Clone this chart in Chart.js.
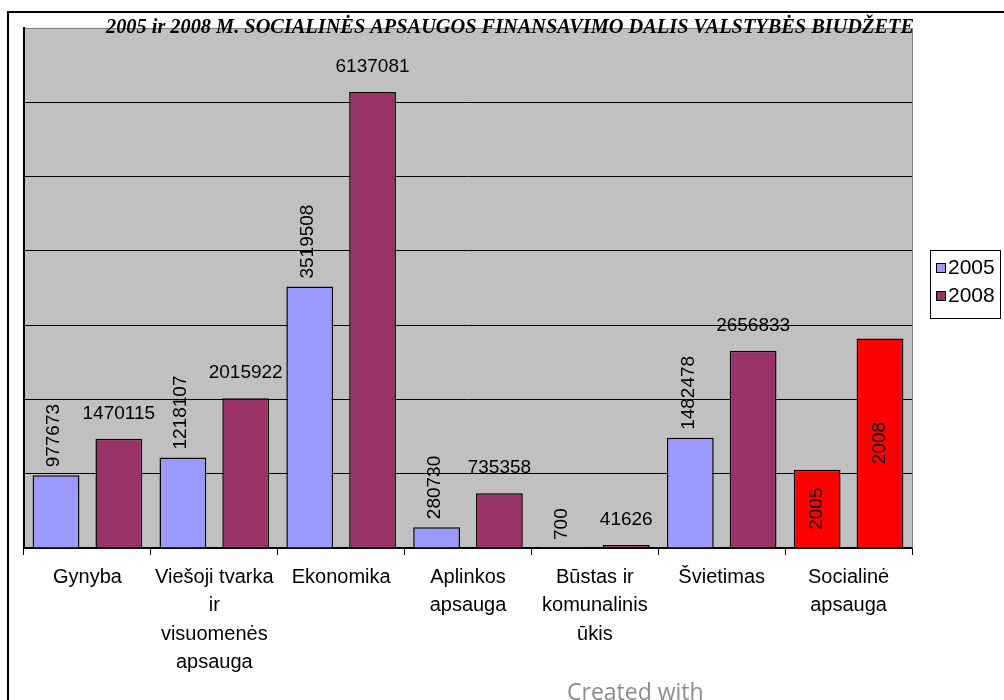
<!DOCTYPE html>
<html>
<head>
<meta charset="utf-8">
<script src="https://cdn.jsdelivr.net/npm/chart.js@4"></script>
<style>
  body { margin: 0; background: #fff; }
  canvas { display: block; }
</style>
</head>
<body>
<canvas id="biudzetas" width="1004" height="700"></canvas>
<script>
const categories = [
    'Gynyba',
    ['Viešoji tvarka', 'ir', 'visuomenės', 'apsauga'],
    'Ekonomika',
    ['Aplinkos', 'apsauga'],
    ['Būstas ir', 'komunalinis', 'ūkis'],
    'Švietimas',
    ['Socialinė', 'apsauga']
];
const seriesNames = ['2005', '2008'];
const values2005 = [977673, 1218107, 3519508, 280730, 700, 1482478, 1052000];
const values2008 = [1470115, 2015922, 6137081, 735358, 41626, 2656833, 2819000];
const yMax = 7000000;
const yStep = 1000000;
const highlightIndex = 6; // social protection bars are drawn red with the year inside

const chartTitle = '2005 ir 2008 M. SOCIALINĖS APSAUGOS FINANSAVIMO DALIS VALSTYBĖS BIUDŽETE';

var color2005 = '#9999FF';
var color2008 = '#993366';
var colorHighlight = '#FF0000';
var plotGray = '#C0C0C0';
var sansFont = '"Liberation Sans", Arial, sans-serif';

function barColors(base) {
    return categories.map((c, i) => i === highlightIndex ? colorHighlight : base);
}

// white page, outer frame and the gray plot background
const frame = {
    id: 'frame',
    beforeDraw(chart) {
        const ctx = chart.ctx;
        const a = chart.chartArea;
        ctx.save();
        ctx.fillStyle = '#fff';
        ctx.fillRect(0, 0, chart.width, chart.height);
        ctx.strokeStyle = '#000';
        ctx.lineWidth = 2;
        ctx.strokeRect(8, 12, chart.width + 20, chart.height + 20);
        ctx.fillStyle = plotGray;
        ctx.fillRect(a.left, a.top, a.right - a.left, a.bottom - a.top);
        ctx.restore();
    },
    afterDraw(chart) {
        const ctx = chart.ctx;
        const a = chart.chartArea;
        ctx.save();

        // right edge of the plot
        ctx.strokeStyle = '#808080';
        ctx.lineWidth = 1;
        ctx.beginPath();
        ctx.moveTo(a.right + 0.5, a.top);
        ctx.lineTo(a.right + 0.5, a.bottom);
        ctx.stroke();

        // title
        ctx.fillStyle = '#000';
        ctx.font = 'italic bold 21px "Liberation Serif", "Times New Roman", serif';
        ctx.textAlign = 'center';
        ctx.textBaseline = 'alphabetic';
        ctx.fillText(chartTitle, 510, 33, 808);

        // legend
        ctx.fillStyle = '#fff';
        ctx.fillRect(931, 250, 70, 69);
        ctx.strokeStyle = '#000';
        ctx.lineWidth = 1;
        ctx.strokeRect(930.5, 250.5, 70, 68);
        const legendColors = [color2005, color2008];
        ctx.font = '21px ' + sansFont;
        ctx.textAlign = 'left';
        ctx.textBaseline = 'middle';
        seriesNames.forEach((name, i) => {
            const y = 268 + i * 28;
            ctx.fillStyle = legendColors[i];
            ctx.fillRect(936, y - 5, 9, 9);
            ctx.strokeRect(936.5, y - 4.5, 9, 9);
            ctx.fillStyle = '#000';
            ctx.fillText(name, 948, y);
        });

        // watermark at the bottom edge
        ctx.filter = 'blur(0.6px)';
        ctx.fillStyle = '#8c8c8c';
        ctx.font = '23px "Open Sans", sans-serif';
        ctx.textAlign = 'left';
        ctx.textBaseline = 'top';
        ctx.fillText('Created with', 567, 682);
        ctx.restore();
    }
};

// value labels: 2005 upright above the bar, 2008 flat above the bar
const barLabels = {
    id: 'barLabels',
    afterDatasetsDraw(chart) {
        const ctx = chart.ctx;
        ctx.save();
        ctx.fillStyle = '#000';
        ctx.font = '19px ' + sansFont;
        chart.data.datasets.forEach((ds, di) => {
            chart.getDatasetMeta(di).data.forEach((bar, i) => {
                if (i === highlightIndex) {
                    ctx.save();
                    ctx.translate(bar.x, (bar.y + bar.base) / 2);
                    ctx.rotate(-Math.PI / 2);
                    ctx.textAlign = 'center';
                    ctx.textBaseline = 'middle';
                    ctx.fillText(ds.label, 0, 0);
                    ctx.restore();
                } else if (di === 0) {
                    ctx.save();
                    ctx.translate(bar.x - 2, bar.y - 8);
                    ctx.rotate(-Math.PI / 2);
                    ctx.textAlign = 'left';
                    ctx.textBaseline = 'middle';
                    ctx.fillText(String(ds.data[i]), 0, 0);
                    ctx.restore();
                } else {
                    ctx.textAlign = 'center';
                    ctx.textBaseline = 'alphabetic';
                    ctx.fillText(String(ds.data[i]), bar.x, bar.y - 20);
                }
            });
        });
        ctx.restore();
    }
};

new Chart(document.getElementById('biudzetas'), {
    type: 'bar',
    data: {
        labels: categories,
        datasets: [{
            label: seriesNames[0],
            data: values2005,
            backgroundColor: barColors(color2005),
            borderColor: '#000',
            borderWidth: 1.5
        }, {
            label: seriesNames[1],
            data: values2008,
            backgroundColor: barColors(color2008),
            borderColor: '#000',
            borderWidth: 1.5
        }]
    },
    options: {
        responsive: false,
        animation: false,
        events: [],
        categoryPercentage: 0.99,
        barPercentage: 0.745,
        layout: { padding: { left: 24, top: 28, right: 92, bottom: 0 } },
        plugins: {
            legend: { display: false },
            title: { display: false },
            tooltip: { enabled: false }
        },
        scales: {
            x: {
                afterFit: function(scale) { scale.height = 152; },
                grid: {
                    display: true,
                    drawOnChartArea: false,
                    drawTicks: true,
                    tickLength: 7,
                    color: '#000',
                    offset: true
                },
                border: { color: '#000', width: 2 },
                ticks: {
                    autoSkip: false,
                    maxRotation: 0,
                    minRotation: 0,
                    padding: 8,
                    color: '#000',
                    font: { family: sansFont, size: 20, lineHeight: 1.42 }
                }
            },
            y: {
                min: 0,
                max: yMax,
                afterFit: function(scale) { scale.width = 0; },
                ticks: { display: false, stepSize: yStep },
                grid: {
                    drawTicks: false,
                    color: function(c) { return c.tick && c.tick.value === yMax ? '#808080' : '#000'; }
                },
                border: { color: '#000', width: 2 }
            }
        }
    },
    plugins: [frame, barLabels]
});
</script>
</body>
</html>
